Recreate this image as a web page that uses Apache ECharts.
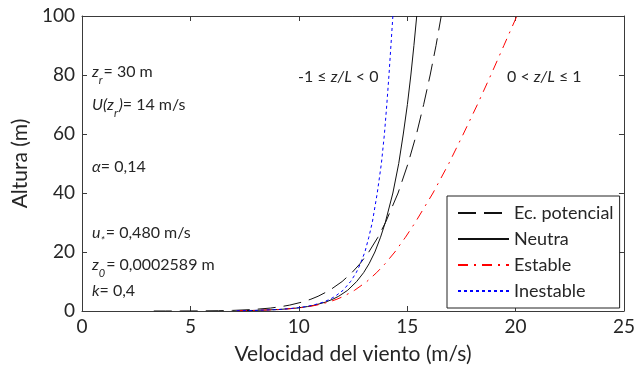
<!DOCTYPE html>
<html>
<head>
<meta charset="utf-8">
<script src="https://cdn.jsdelivr.net/npm/echarts@6/dist/echarts.min.js"></script>
<style>html,body{margin:0;padding:0;background:#fff}#c{width:638px;height:370px}</style>
</head>
<body>
<div id="c"></div>
<script>
// ---- data ----
const seriesNames = ['Ec. potencial', 'Neutra', 'Estable', 'Inestable'];
const xTicks = [0, 5, 10, 15, 20, 25];
const yTicks = [0, 20, 40, 60, 80, 100];
// heights (m)
const zPot = [0.001,0.003,0.01,0.03,0.1,0.2,0.5,1,1.5,2,3,4,5,7,10,13,16,20,25,30,40,50,60,70,80,90,100];
const zLog = [0.1,0.2,0.5,1,1.5,2,3,4,5,7,10,13,16,20,25,30,40,50,60,70,80,90,100];
// wind speed (m/s)
const uPotencial = [3.31,3.86,4.56,5.32,6.30,6.94,7.89,8.70,9.20,9.58,10.14,10.56,10.89,11.42,12.00,12.45,12.82,13.23,13.65,14.00,14.58,15.04,15.43,15.76,16.06,16.33,16.57];
const uNeutra = [7.15,7.98,9.08,9.91,10.40,10.74,11.23,11.57,11.84,12.25,12.67,12.99,13.24,13.51,13.77,13.99,14.34,14.61,14.82,15.01,15.17,15.31,15.44];
const uEstable = [7.15,7.99,9.10,9.96,10.47,10.83,11.37,11.76,12.07,12.57,13.14,13.59,13.98,14.43,14.92,15.37,16.19,16.92,17.59,18.24,18.86,19.46,20.06];
const uInestable = [7.14,7.97,9.07,9.88,10.34,10.67,11.13,11.44,11.68,12.04,12.39,12.65,12.84,13.05,13.23,13.39,13.62,13.81,13.95,14.06,14.16,14.25,14.34];

const FONT = 'Lato';
const TXT = '#262626';
const AX = '#3a3a3a';

function pairs(u, z) { return u.map((v, i) => [v, z[i]]); }

const chart = echarts.init(document.getElementById('c'), null, {renderer: 'canvas'});

function axisCommon(extra) {
  return Object.assign({
    type: 'value',
    axisLine: {show: true, onZero: false, lineStyle: {color: AX, width: 1}},
    axisTick: {show: true, inside: true, length: 5, lineStyle: {color: AX, width: 1}},
    splitLine: {show: false}
  }, extra);
}

// annotation builder: segments are [text, kind] with kind n (normal), i (italic), s (subscript)
const fonts = {
  n: '16px ' + FONT,
  i: 'italic 16px ' + FONT,
  s: 'italic 11px ' + FONT
};
const mctx = document.createElement('canvas').getContext('2d');
function ann(x, y, segs) {
  const out = [];
  let cx = x;
  segs.forEach(([t, k]) => {
    mctx.font = fonts[k];
    const w = mctx.measureText(t).width;
    out.push({
      type: 'text', x: cx, y: k === 's' ? y + 8.5 : y, z: 5, silent: true,
      style: {text: t, font: fonts[k], fill: TXT, align: 'left', verticalAlign: 'middle'}
    });
    cx += w + (k === 's' ? 1 : 0);
  });
  return out;
}

const graphics = [].concat(
  ann(92, 72, [['z', 'i'], ['r', 's'], ['= 30 m', 'n']]),
  ann(92, 105, [['U(z', 'i'], ['r', 's'], [')', 'i'], ['= 14 m/s', 'n']]),
  ann(92, 167, [['α', 'i'], ['= 0,14', 'n']]),
  ann(92, 233, [['u', 'i'], ['*', 's'], ['= 0,480 m/s', 'n']]),
  ann(92, 265, [['z', 'i'], ['0', 's'], ['= 0,0002589 m', 'n']]),
  ann(92, 291, [['k', 'i'], ['= 0,4', 'n']]),
  ann(298, 77, [['-1 ≤ ', 'n'], ['z/L', 'i'], [' < 0', 'n']]),
  ann(507, 77, [['0 < ', 'n'], ['z/L', 'i'], [' ≤ 1', 'n']])
);

chart.setOption({
  animation: false,
  backgroundColor: '#fff',
  grid: {left: 82, right: 11, top: 16, bottom: 57, containLabel: false},
  xAxis: [
    axisCommon({
      min: 0, max: 25, interval: 5, position: 'bottom',
      axisLabel: {fontFamily: FONT, fontSize: 19, color: TXT, margin: 6},
      name: 'Velocidad del viento (m/s)', nameLocation: 'middle', nameGap: 33,
      nameTextStyle: {fontFamily: FONT, fontSize: 21, color: TXT}
    }),
    axisCommon({min: 0, max: 25, interval: 5, position: 'top', axisLabel: {show: false}})
  ],
  yAxis: [
    axisCommon({
      min: 0, max: 100, interval: 20, position: 'left',
      axisLabel: {fontFamily: FONT, fontSize: 19, color: TXT, margin: 7},
      name: 'Altura (m)', nameLocation: 'middle', nameGap: 49,
      nameTextStyle: {fontFamily: FONT, fontSize: 21, color: TXT}
    }),
    axisCommon({min: 0, max: 100, interval: 20, position: 'right', axisLabel: {show: false}})
  ],
  legend: {
    data: seriesNames,
    orient: 'vertical',
    left: 447, top: 196,
    padding: [8, 6, 8, 10],
    itemWidth: 51, itemHeight: 14, itemGap: 8,
    backgroundColor: '#fff',
    borderColor: '#222', borderWidth: 1,
    itemStyle: {color: 'rgba(0,0,0,0)', borderWidth: 0, opacity: 0},
    textStyle: {fontFamily: FONT, fontSize: 18, color: TXT, lineHeight: 18},
    z: 6
  },
  series: [
    {name: seriesNames[0], type: 'line', data: pairs(uPotencial, zPot), symbol: 'none', showSymbol: false,
     lineStyle: {color: '#111', width: 1, type: [18, 8]}, itemStyle: {color: '#111'}},
    {name: seriesNames[1], type: 'line', data: pairs(uNeutra, zLog), symbol: 'none', showSymbol: false,
     lineStyle: {color: '#111', width: 1, type: 'solid'}, itemStyle: {color: '#111'}},
    {name: seriesNames[2], type: 'line', data: pairs(uEstable, zLog), symbol: 'none', showSymbol: false,
     lineStyle: {color: '#ff0000', width: 1, type: [10, 6, 2, 6]}, itemStyle: {color: '#ff0000'}},
    {name: seriesNames[3], type: 'line', data: pairs(uInestable, zLog), symbol: 'none', showSymbol: false,
     lineStyle: {color: '#0000ff', width: 1, type: [3, 3]}, itemStyle: {color: '#0000ff'}}
  ],
  graphic: graphics
});
</script>
</body>
</html>
